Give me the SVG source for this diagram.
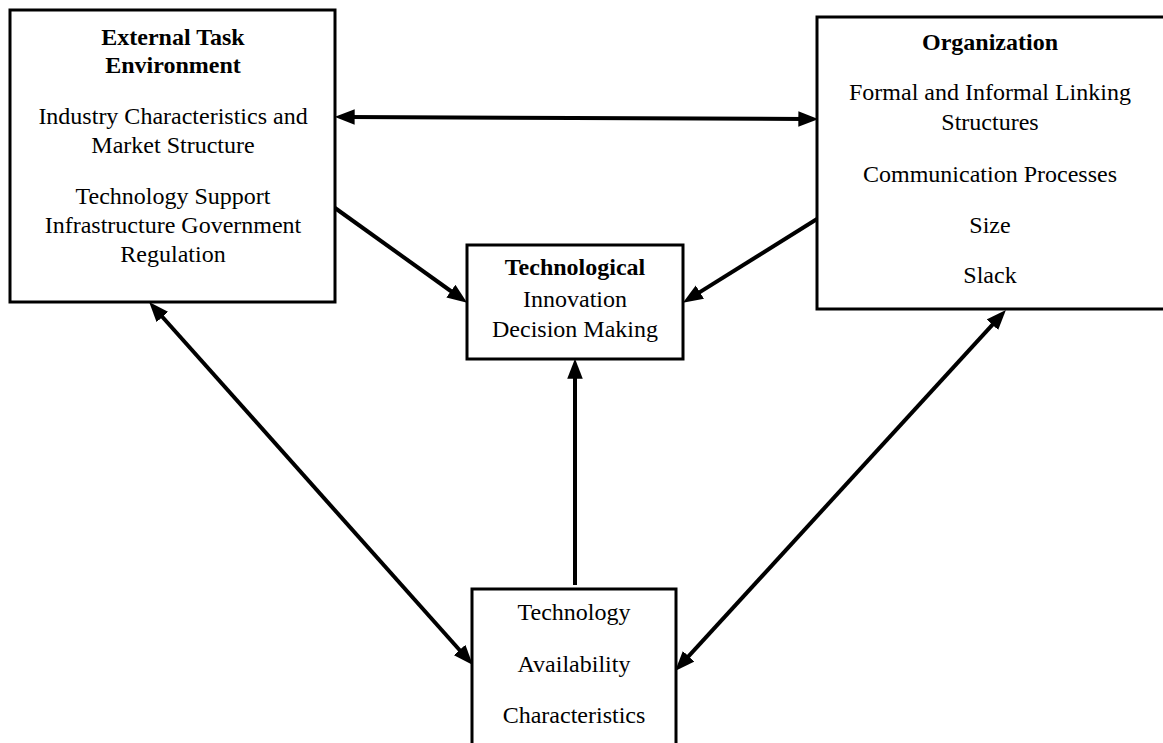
<svg xmlns="http://www.w3.org/2000/svg" width="1163" height="743" viewBox="0 0 1163 743">
<style>
.box{fill:#fff;stroke:#000;stroke-width:3}
.t{font-family:"Liberation Serif","Times New Roman",serif;font-size:24px;fill:#000;text-anchor:middle}
.b{font-weight:bold}
.c{stroke:#000;stroke-width:4;fill:none}
</style>
<defs>
<marker id="ah" markerUnits="userSpaceOnUse" markerWidth="20" markerHeight="16" refX="6" refY="7" orient="auto-start-reverse" viewBox="0 0 18 14">
<path d="M0,0 L18,7 L0,14 z" fill="#000"/>
</marker>
</defs>
<rect width="1163" height="743" fill="#fff"/>
<g id="connectors">
<line class="c" x1="348" y1="117" x2="805" y2="119" marker-start="url(#ah)" marker-end="url(#ah)"/>
<line class="c" x1="335" y1="208" x2="456.3" y2="295" marker-end="url(#ah)"/>
<line class="c" x1="817" y1="219" x2="694.2" y2="295.6" marker-end="url(#ah)"/>
<line class="c" x1="575" y1="585" x2="575" y2="372" marker-end="url(#ah)"/>
<line class="c" x1="158" y1="312" x2="464" y2="655" marker-start="url(#ah)" marker-end="url(#ah)"/>
<line class="c" x1="996.9" y1="319.8" x2="684.1" y2="661.2" marker-start="url(#ah)" marker-end="url(#ah)"/>
</g>
<g id="external">
<rect class="box" x="10" y="10" width="325" height="292"/>
<text class="t b" x="173" y="45">External Task</text>
<text class="t b" x="173" y="73">Environment</text>
<text class="t" x="173" y="124">Industry Characteristics and</text>
<text class="t" x="173" y="153">Market Structure</text>
<text class="t" x="173" y="204">Technology Support</text>
<text class="t" x="173" y="233">Infrastructure Government</text>
<text class="t" x="173" y="262">Regulation</text>
</g>
<g id="organization">
<rect class="box" x="817" y="17" width="360" height="292"/>
<text class="t b" x="990" y="50">Organization</text>
<text class="t" x="990" y="100">Formal and Informal Linking</text>
<text class="t" x="990" y="130">Structures</text>
<text class="t" x="990" y="182">Communication Processes</text>
<text class="t" x="990" y="233">Size</text>
<text class="t" x="990" y="283">Slack</text>
</g>
<g id="decision">
<rect class="box" x="467" y="245" width="216" height="114"/>
<text class="t" x="575" y="275"><tspan class="b">Technological</tspan></text>
<text class="t" x="575" y="307">Innovation</text>
<text class="t" x="575" y="337">Decision Making</text>
</g>
<g id="technology">
<rect class="box" x="472" y="589" width="204" height="170"/>
<text class="t" x="574" y="620">Technology</text>
<text class="t" x="574" y="672">Availability</text>
<text class="t" x="574" y="723">Characteristics</text>
</g>
</svg>
